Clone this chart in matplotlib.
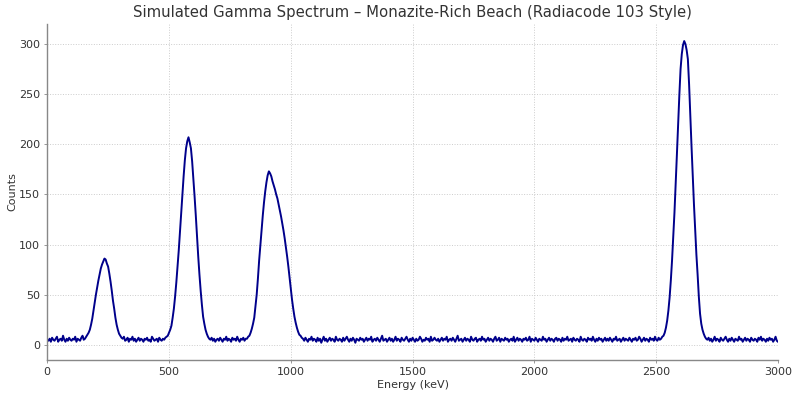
import numpy as np
import matplotlib
matplotlib.use('Agg')
import matplotlib.pyplot as plt

# spectrum, one value every 5 keV (20 values per 100 keV row)
energy_kev = np.arange(0, 3001, 5)
counts = [
    5, 4, 6, 3, 7, 5, 4, 6, 8, 3, 5, 6, 4, 9, 5, 3, 6, 4, 7, 5,
    4, 6, 5, 8, 3, 6, 5, 4, 7, 9, 5, 6, 8, 10, 12, 15, 20, 26, 34, 42,
    50, 57, 64, 70, 76, 80, 83, 86, 85, 81, 78, 71, 63, 54, 44, 36, 27, 20, 15, 11,
    9, 7, 6, 8, 4, 5, 7, 3, 6, 5, 8, 4, 6, 3, 5, 7, 4, 6, 5, 3,
    6, 5, 7, 4, 5, 3, 8, 6, 4, 5, 6, 3, 7, 5, 4, 6, 5, 7, 8, 9,
    12, 15, 19, 27, 36, 48, 62, 78, 94, 112, 131, 150, 168, 184, 196, 203, 207, 202, 196, 183,
    166, 148, 129, 108, 88, 70, 54, 40, 28, 21, 15, 11, 8, 6, 5, 7, 4, 6, 3, 5,
    6, 4, 7, 5, 3, 6, 5, 8, 4, 6, 5, 3, 7, 5, 6, 4, 8, 5, 3, 6,
    5, 7, 4, 6, 6, 8, 9, 12, 16, 21, 27, 38, 50, 66, 84, 99, 114, 129, 142, 153,
    162, 169, 173, 171, 168, 163, 159, 155, 150, 146, 140, 134, 128, 121, 114, 106, 97, 88, 78, 67,
    56, 45, 36, 28, 22, 17, 13, 10, 9, 7, 6, 4, 7, 5, 3, 6, 5, 8, 4, 6,
    5, 3, 7, 4, 6, 2, 5, 8, 4, 6, 3, 5, 7, 4, 6, 5, 3, 8, 5, 4,
    6, 5, 3, 7, 4, 6, 8, 5, 3, 6, 4, 7, 5, 2, 6, 5, 4, 7, 5, 6,
    3, 5, 7, 4, 6, 5, 8, 3, 5, 6, 4, 7, 5, 3, 6, 9, 4, 5, 6, 3,
    5, 7, 4, 6, 3, 5, 8, 4, 6, 5, 3, 7, 5, 4, 6, 8, 5, 3, 6, 4,
    7, 5, 3, 6, 4, 5, 8, 6, 3, 5, 4, 7, 5, 6, 3, 8, 4, 5, 7, 5,
    4, 6, 3, 5, 7, 4, 6, 5, 8, 3, 5, 6, 4, 7, 5, 3, 6, 9, 4, 5,
    6, 3, 5, 7, 4, 6, 5, 3, 8, 5, 4, 6, 7, 3, 5, 6, 4, 8, 5, 6,
    3, 5, 7, 4, 6, 5, 3, 6, 8, 4, 5, 7, 3, 6, 5, 4, 7, 5, 6, 3,
    5, 6, 4, 8, 3, 5, 7, 4, 6, 5, 3, 6, 5, 7, 4, 5, 8, 3, 6, 5,
    4, 7, 5, 3, 6, 5, 4, 8, 5, 6, 3, 5, 7, 4, 6, 5, 3, 6, 7, 4,
    6, 5, 3, 7, 4, 6, 5, 8, 4, 5, 6, 3, 7, 5, 4, 6, 5, 3, 8, 5,
    4, 6, 5, 3, 7, 5, 6, 4, 8, 5, 3, 6, 4, 7, 5, 6, 3, 5, 7, 4,
    6, 4, 7, 5, 3, 6, 5, 8, 4, 5, 6, 3, 5, 7, 4, 6, 5, 4, 7, 5,
    3, 6, 5, 7, 4, 5, 8, 6, 3, 5, 7, 4, 6, 5, 3, 7, 5, 6, 4, 8,
    5, 4, 7, 5, 6, 8, 9, 12, 17, 24, 34, 47, 64, 84, 107, 132, 160, 190, 220, 249,
    275, 290, 299, 303, 300, 294, 285, 260, 228, 198, 168, 140, 115, 90, 70, 48, 31, 21, 15, 11,
    8, 6, 5, 7, 4, 6, 3, 5, 8, 4, 6, 5, 3, 7, 5, 4, 6, 8, 5, 3,
    6, 4, 7, 5, 3, 6, 5, 4, 8, 5, 6, 3, 5, 7, 4, 6, 5, 3, 7, 5,
    4, 6, 5, 3, 7, 5, 8, 4, 6, 5, 3, 6, 4, 7, 5, 6, 3, 5, 8, 4,
    3,
]

title = 'Simulated Gamma Spectrum \u2013 Monazite-Rich Beach (Radiacode 103 Style)'
text_col = '#333333'
spine_col = '#888888'

fig = plt.figure(figsize=(8, 3.97), dpi=100)
ax = fig.add_subplot(111)
fig.subplots_adjust(left=0.059, right=0.9725, bottom=0.093, top=0.9395)

ax.plot(energy_kev, counts, color='darkblue', linewidth=1.4)

ax.set_xlim(0, 3000)
ax.set_ylim(-15.3, 320)
ax.set_xticks([0, 500, 1000, 1500, 2000, 2500, 3000])
ax.set_yticks([0, 50, 100, 150, 200, 250, 300])

ax.set_title(title, fontsize=10.7, color=text_col, pad=5)
ax.set_xlabel('Energy (keV)', fontsize=8, color=text_col, labelpad=2)
ax.set_ylabel('Counts', fontsize=8, color=text_col, labelpad=1)

ax.grid(True, linestyle=':', color='#cccccc', linewidth=0.7)
ax.set_axisbelow(True)
for s in ['top', 'right']:
    ax.spines[s].set_visible(False)
for s in ['left', 'bottom']:
    ax.spines[s].set_color(spine_col)
    ax.spines[s].set_linewidth(1.0)
ax.tick_params(axis='both', labelsize=8, colors=text_col, length=2, width=0.6, color=spine_col, pad=3)

plt.savefig('out.png', dpi=100)
